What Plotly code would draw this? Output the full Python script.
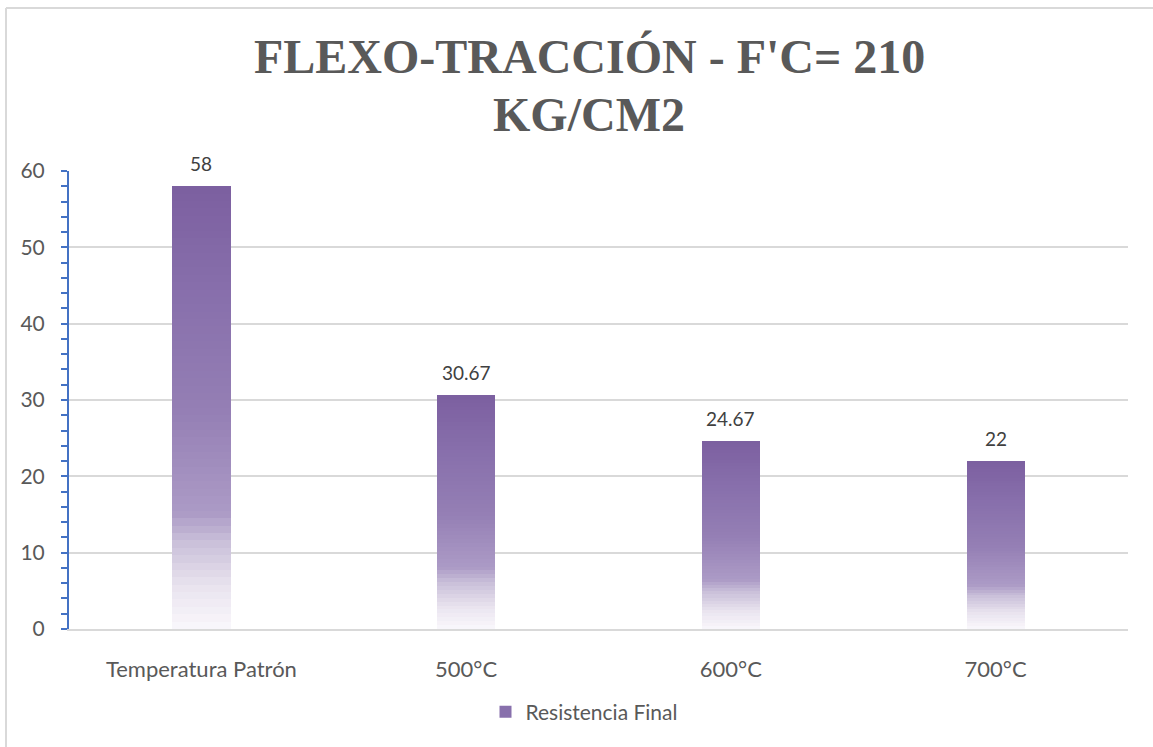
import plotly.graph_objects as go

# Flexural-tensile strength by exposure temperature
categories = ["Temperatura Patrón", "500°C", "600°C", "700°C"]
resistencia = [58, 30.67, 24.67, 22]
value_labels = ["58", "30.67", "24.67", "22"]
series_name = "Resistencia Final"

# Vertical gradient of the bars: (fraction of bar height, rgb)
gradient_stops = [
    (0.00, (250, 248, 252)),
    (0.10, (232, 226, 238)),
    (0.20, (200, 190, 216)),
    (0.26, (172, 155, 198)),
    (0.50, (148, 126, 180)),
    (0.75, (136, 112, 172)),
    (1.00, (124, 95, 160)),
]
N_SLICES = 60


def colour_at(f):
    for (f0, c0), (f1, c1) in zip(gradient_stops[:-1], gradient_stops[1:]):
        if f0 <= f <= f1:
            t = (f - f0) / (f1 - f0) if f1 > f0 else 0
            return "rgb(%d,%d,%d)" % tuple(round(a + (b - a) * t) for a, b in zip(c0, c1))
    return "rgb(%d,%d,%d)" % gradient_stops[-1][1]


# Plot-area geometry in pixels
L, R, T, B = 69, 25, 171, 118
W_PLOT = 1153 - L - R
H_PLOT = 747 - T - B


def px_x(px):
    return (px - L) / W_PLOT


def px_y(py):
    return (747 - B - py) / H_PLOT


font_family = "Lato, Open Sans, sans-serif"
title_font = dict(family="Liberation Serif, Times New Roman, serif", size=48, color="#595959")

fig = go.Figure()

# Each bar is built from stacked slices so it can carry a vertical gradient
for k in range(N_SLICES):
    frac = (k + 0.5) / N_SLICES
    fig.add_trace(go.Bar(
        x=categories,
        y=[v / N_SLICES for v in resistencia],
        marker=dict(color=colour_at(frac), line=dict(width=0)),
        width=0.22,
        showlegend=False,
        hoverinfo="skip",
    ))

# Legend entry for the series
fig.add_trace(go.Bar(
    x=[categories[0]], y=[None],
    name=series_name,
    marker=dict(color="rgb(136,112,172)", line=dict(width=0)),
    showlegend=True,
))

# Value labels above the bars
label_annotations = [
    dict(
        x=c, y=v, xref="x", yref="y",
        text=t, showarrow=False,
        xanchor="center", yanchor="bottom", yshift=9,
        font=dict(family=font_family, size=19, color="#404040"),
    )
    for c, v, t in zip(categories, resistencia, value_labels)
]

title_annotations = [
    dict(
        text="<b>FLEXO-TRACCIÓN - F'C= 210</b>",
        xref="paper", yref="paper",
        x=px_x(589), y=px_y(57),
        xanchor="center", yanchor="middle",
        showarrow=False, font=title_font,
    ),
    dict(
        text="<b>KG/CM2</b>",
        xref="paper", yref="paper",
        x=px_x(589), y=px_y(114),
        xanchor="center", yanchor="middle",
        showarrow=False, font=title_font,
    ),
]

fig.update_layout(
    width=1153, height=747,
    margin=dict(l=L, r=R, t=T, b=B, autoexpand=False),
    paper_bgcolor="white",
    plot_bgcolor="white",
    barmode="stack",
    font=dict(family=font_family, color="#595959"),
    legend=dict(
        orientation="h",
        x=px_x(584), xanchor="center",
        y=px_y(712), yanchor="middle",
        font=dict(family=font_family, size=21, color="#595959"),
        itemwidth=30,
        traceorder="normal",
    ),
    xaxis=dict(
        type="category",
        showline=True, linecolor="#d9d9d9", linewidth=2,
        ticks="outside", ticklen=20, tickcolor="rgba(0,0,0,0)",
        tickfont=dict(family=font_family, size=22, color="#595959"),
        showgrid=False, zeroline=False,
        fixedrange=True,
    ),
    yaxis=dict(
        range=[0, 60],
        dtick=10,
        showline=True, linecolor="#4472c4", linewidth=2,
        ticks="outside", ticklen=6, tickcolor="#4472c4", tickwidth=2,
        minor=dict(dtick=2, ticks="outside", ticklen=6, tickcolor="#4472c4", tickwidth=2),
        ticklabelstandoff=12,
        tickfont=dict(family=font_family, size=21, color="#595959"),
        showgrid=True, gridcolor="#d9d9d9", gridwidth=1.5,
        zeroline=False,
        fixedrange=True,
    ),
    annotations=title_annotations + label_annotations,
    shapes=[
        # chart frame: top and left edges
        dict(type="line", xref="paper", yref="paper",
             x0=px_x(6), x1=px_x(1153), y0=px_y(8), y1=px_y(8),
             line=dict(color="#d9d9d9", width=2)),
        dict(type="line", xref="paper", yref="paper",
             x0=px_x(6), x1=px_x(6), y0=px_y(8), y1=px_y(747),
             line=dict(color="#d9d9d9", width=2)),
    ],
)

fig.write_html("out.html")
